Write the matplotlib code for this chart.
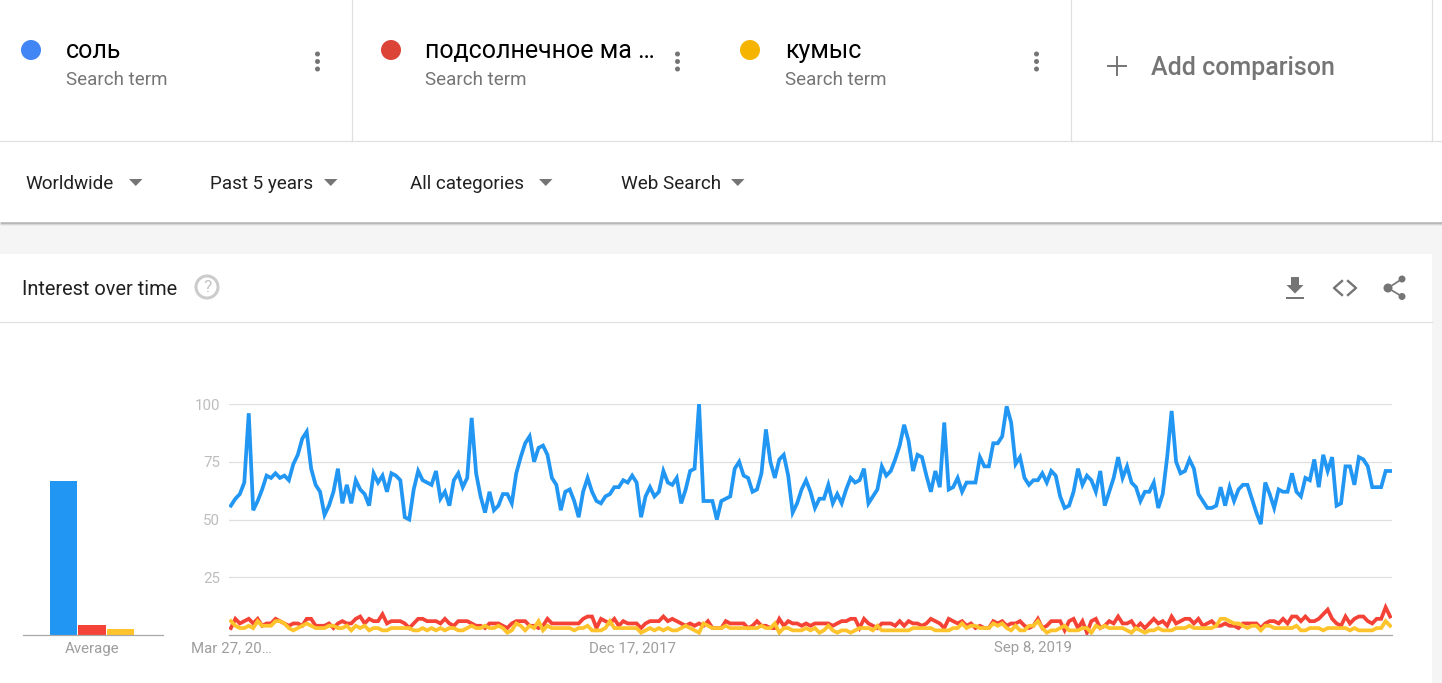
import matplotlib
matplotlib.use('Agg')
import matplotlib.pyplot as plt
import matplotlib.patches as mp
import pandas as pd

plt.rcParams['font.family'] = ['Roboto', 'DejaVu Sans']

# weekly values
sol = [56,59,61,66,96,54,58,63,69,68,
       70,68,69,67,74,78,85,88,72,65,
       62,52,56,62,72,57,65,57,67,63,
       61,56,70,66,69,62,70,69,67,51,
       50,63,71,67,66,65,71,59,62,56,
       67,70,64,68,94,70,60,53,62,54,
       56,61,61,57,70,77,83,86,75,81,
       82,78,68,65,54,62,63,58,51,62,
       68,62,58,57,60,61,64,64,67,66,
       69,66,51,60,64,60,62,71,66,65,
       68,57,63,71,72,100,58,58,58,50,
       58,59,60,72,75,69,68,62,63,70,
       89,75,68,76,78,69,53,57,63,67,
       62,55,59,59,65,57,61,57,63,68,
       66,67,72,57,60,63,73,69,71,76,
       82,91,84,71,78,77,69,62,71,64,
       92,63,64,68,62,66,66,66,77,73,
       73,83,83,86,99,92,74,77,68,65,
       67,67,70,66,71,69,60,55,56,62,
       72,65,69,67,62,71,56,62,68,77,
       68,73,66,64,58,62,62,66,55,61,
       77,97,75,70,71,76,72,61,58,55,
       55,56,64,56,64,58,63,65,65,59,
       53,48,66,61,55,63,62,62,70,62,
       60,68,67,76,64,78,71,77,56,57,
       73,73,65,77,76,73,64,64,64,71,71]
maslo = [3,7,5,6,7,5,7,4,5,5,
         7,6,5,4,5,5,4,7,7,4,
         4,4,5,3,5,6,5,5,7,8,
         5,7,6,6,9,5,6,6,6,5,
         3,5,7,7,6,6,6,5,7,5,
         4,6,6,6,5,4,4,3,5,5,
         5,4,3,5,6,6,6,4,4,3,
         4,7,5,5,5,5,5,5,5,7,
         8,8,3,7,6,5,7,4,6,5,
         5,5,3,5,6,6,6,8,6,7,
         6,5,4,5,4,5,4,6,3,3,
         3,6,5,5,5,5,3,4,6,4,
         4,3,3,7,4,6,5,5,4,5,
         4,5,5,5,5,4,5,6,6,7,
         7,3,7,5,4,3,5,5,5,4,
         6,4,6,5,5,4,5,7,6,5,
         3,7,6,5,6,4,5,3,4,3,
         3,6,5,6,4,5,5,6,4,3,
         4,7,3,4,6,6,6,2,6,7,
         3,6,1,6,7,3,4,6,5,8,
         5,5,6,3,5,3,5,7,5,6,
         4,8,5,6,7,7,5,7,4,5,
         6,4,4,5,4,4,3,5,5,5,
         5,3,5,6,6,5,7,5,8,8,
         6,8,6,6,7,9,11,7,5,4,
         8,5,7,8,8,6,5,7,7,12,8]
kumys = [6,4,3,3,4,3,6,4,4,4,
         6,6,5,3,2,3,4,5,4,3,
         3,3,4,4,3,3,4,2,4,3,
         4,2,3,3,2,2,3,3,3,3,
         3,2,2,3,2,3,2,3,2,3,
         3,2,2,3,4,3,3,4,3,3,
         4,3,1,2,5,4,2,4,3,6,
         2,4,3,3,3,3,3,2,3,3,
         4,2,2,2,3,6,3,3,3,3,
         3,3,1,2,3,2,3,2,3,2,
         2,3,4,3,2,1,5,4,3,3,
         3,4,3,3,3,3,3,3,3,4,
         3,3,5,1,3,3,2,2,2,3,
         2,3,1,2,4,2,1,2,2,1,
         2,3,3,3,2,4,2,2,2,2,
         2,2,2,3,3,3,3,3,2,2,
         2,2,3,3,5,3,4,4,3,3,
         3,5,4,5,3,2,4,2,2,4,
         4,6,3,1,2,2,3,4,2,2,
         2,3,3,1,4,3,4,3,3,3,
         3,2,1,3,2,1,2,2,3,2,
         2,2,3,3,3,4,3,3,3,3,
         3,4,7,7,6,5,5,4,3,4,
         4,2,4,4,3,3,3,3,3,4,
         2,2,3,3,3,2,3,3,3,3,
         3,2,3,2,2,2,2,3,3,6,4]
averages = [66.7, 4.4, 2.7]
yticks = [25, 50, 75, 100]
xtick_dates = ['2016-03-27', '2017-12-17', '2019-09-08']
xtick_labels = ['Mar 27, 20…', 'Dec 17, 2017', 'Sep 8, 2019']
line_colors = ['#2196f3', '#f44336', '#ffc42b']
W, H = 1442, 683
weeks = pd.date_range('2016-03-27', periods=len(sol), freq='7D')

fig = plt.figure(figsize=(W / 100, H / 100), dpi=100)


def box(l, t, r, b):
    # pixel box (from the top left) -> figure fractions
    return [l / W, 1 - b / H, (r - l) / W, (b - t) / H]


# page around the chart, in pixels
ui = fig.add_axes([0, 0, 1, 1], zorder=0)
ui.set_xlim(0, W)
ui.set_ylim(H, 0)
ui.axis('off')

ui.add_patch(mp.Rectangle((0, 224), W, 30, color='#f5f5f5', lw=0))
ui.add_patch(mp.Rectangle((1432, 224), 10, H - 224, color='#f5f5f5', lw=0))
for y, c in [(221.5, '#c4c4c4'), (222.5, '#b8b8b8'), (223.5, '#d6d6d6'), (224.5, '#ebebeb')]:
    ui.plot([0, W], [y, y], color=c, lw=0.72, solid_capstyle='butt')
ui.plot([0, W], [140.8, 140.8], color='#e0e0e0', lw=0.9)
ui.plot([0, 1432], [321.8, 321.8], color='#e0e0e0', lw=0.9)
for x in [351.8, 1070.8, 1431.8]:
    ui.plot([x, x], [0, 141], color='#e0e0e0', lw=0.9)

# search terms
terms = [(31, 66, 'соль', '#4285f4'),
         (391, 425, 'подсолнечное ма …', '#db4437'),
         (750, 785, 'кумыс', '#f4b400')]
for cx, tx, name, c in terms:
    ui.add_patch(mp.Ellipse((cx, 50), 20, 20, color=c, lw=0))
    ui.text(tx, 51, name, fontsize=18, color='#000000', va='center')
    ui.text(tx, 80, 'Search term', fontsize=13.5, color='#757575', va='center')
for x in [317.5, 677.5, 1036.5]:
    for y in [54, 61.5, 69]:
        ui.add_patch(mp.Ellipse((x, y), 5, 5, color='#757575', lw=0))

ui.plot([1108, 1126], [66, 66], color='#757575', lw=1.4)
ui.plot([1117, 1117], [57, 75], color='#757575', lw=1.4)
ui.text(1151, 68.5, 'Add comparison', fontsize=18, fontweight='medium', color='#757575', va='center')

# filters
filters = [(25, 129, 'Worldwide'), (210, 324, 'Past 5 years'),
           (410, 539, 'All categories'), (621, 731, 'Web Search')]
for tx, ax_, name in filters:
    ui.text(tx, 184, name, fontsize=13.6, color='#212121', va='center')
    ui.add_patch(mp.Polygon([(ax_, 179), (ax_ + 13.5, 179), (ax_ + 6.75, 186)], color='#757575', lw=0))

# card header
ui.text(22, 289.5, 'Interest over time', fontsize=14.4, color='#212121', va='center')
ui.add_patch(mp.Ellipse((207, 287), 22, 22, fc='white', ec='#cccccc', lw=2.2))
ui.text(207, 287.5, '?', fontsize=12.5, color='#c4c4c4', va='center', ha='center')

# icons
ui.add_patch(mp.Polygon([(1291, 277), (1299, 277), (1299, 285), (1303.5, 285), (1295, 293.5),
                         (1286.5, 285), (1291, 285)], color='#757575', lw=0))
ui.add_patch(mp.Rectangle((1285.5, 297), 18, 2.2, color='#757575', lw=0))
ui.plot([1342, 1334, 1342], [281, 288, 295], color='#757575', lw=1.7)
ui.plot([1348, 1356, 1348], [281, 288, 295], color='#757575', lw=1.7)
ui.plot([1402, 1388, 1402], [279, 288, 296.5], color='#757575', lw=1.2)
for x, y, d in [(1388, 288, 9), (1402, 279, 7), (1402, 296.5, 7)]:
    ui.add_patch(mp.Ellipse((x, y), d, d, color='#757575', lw=0))

# average bars
ax0 = fig.add_axes(box(23, 404, 163, 635), zorder=1)
ax0.patch.set_alpha(0)
ax0.bar([0, 1, 2], averages, width=0.95, color=line_colors)
ax0.set_xlim(-1.42, 3.49)
ax0.set_ylim(0, 100)
ax0.set_yticks([])
ax0.set_xticks([1])
ax0.set_xticklabels(['Average'], fontsize=10.8, color='#9e9e9e')
ax0.tick_params(length=0, pad=5)
for s in ['top', 'left', 'right']:
    ax0.spines[s].set_visible(False)
ax0.spines['bottom'].set_color('#a8a8a8')
ax0.spines['bottom'].set_linewidth(0.9)

# main lines
ax = fig.add_axes(box(229, 404, 1392, 635), zorder=1)
ax.patch.set_alpha(0)
for vals, c in zip([sol, maslo, kumys], line_colors):
    ax.plot(weeks, vals, color=c, lw=2.7, solid_joinstyle='miter')
ax.set_xlim(weeks[0] - pd.Timedelta(days=3), weeks[-1] + pd.Timedelta(days=3))
ax.set_ylim(0, 100)
ax.set_yticks(yticks)
ax.set_yticklabels([str(t) for t in yticks], fontsize=10.8, color='#bdbdbd')
ax.set_xticks(pd.to_datetime(xtick_dates))
ax.set_xticklabels(xtick_labels, fontsize=10.8, color='#9e9e9e')
ax.tick_params(length=0)
ax.tick_params(axis='y', pad=6.5)
ax.tick_params(axis='x', pad=4.5)
ax.grid(True, axis='y', color='#e0e0e0', lw=0.95)
ax.set_axisbelow(True)
for s in ['top', 'left', 'right']:
    ax.spines[s].set_visible(False)
ax.spines['bottom'].set_color('#a8a8a8')
ax.spines['bottom'].set_linewidth(0.9)

fig.savefig('out.png', dpi=100)
